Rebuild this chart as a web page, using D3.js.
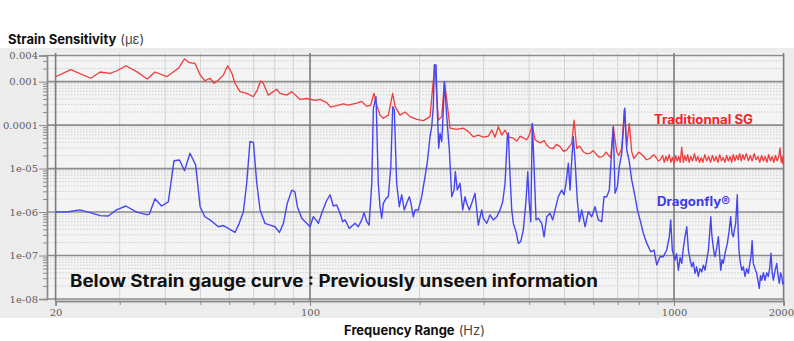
<!DOCTYPE html>
<html>
<head>
<meta charset="utf-8">
<script src="https://cdn.jsdelivr.net/npm/d3@7"></script>
<style>
  html, body { margin: 0; padding: 0; background: #ffffff; }
  svg { display: block; }
  .ticklabel { font-family: "DejaVu Serif", serif; font-size: 10px; fill: #5c5c5c; }
  .title { font-family: Inter, "Open Sans", sans-serif; }
</style>
</head>
<body>
<div id="chart"></div>
<script>
// Traditional strain gauge spectrum (Hz, strain)
const tradFreq = [20, 22, 25, 26.5, 28.2, 29.4, 31.2, 33.4, 35.7, 37.5, 40.4, 43.5, 45.2, 46.6, 48.3, 49.9, 51.4, 53.1, 54.5, 56,
  57.8, 59.4, 61, 62.2, 64.2, 67, 69.9, 71.6, 73.2, 74.4, 76.8, 81, 82.7, 86.3, 89.1, 93.9, 97.9, 103.2, 106.5, 111.1,
  114, 118.4, 123.5, 127.4, 134.4, 138.7, 143.2, 146.8, 149.9, 152.5, 155.7, 159, 164.1, 168.7, 171.2, 176.7, 182.4, 188.3, 196.4, 204.8,
  213.6, 217.3, 220.5, 222.9, 225.2, 230.1, 233.9, 237.5, 242.5, 252.9, 263.8, 272.3, 280.9, 290, 299.3, 309, 315.7, 322.3, 329.1, 336.3,
  343.4, 350.6, 361.9, 370, 377.5, 393.8, 400, 408, 415, 428.5, 440, 447, 455, 466.1, 475, 486.3, 497, 507.4, 523.6, 531.3,
  540.4, 550, 563.4, 575, 587.8, 600, 613.2, 625, 639.4, 650, 659.9, 670, 681.1, 696, 705, 718.3, 730.3, 741.3, 753.7, 765.2,
  775, 789.8, 800, 823.6, 840, 859.3, 880, 896.5, 905, 915.3];
const tradStrain = [1.3e-3, 1.9e-3, 1.2e-3, 1.67e-3, 1.56e-3, 1.76e-3, 2.33e-3, 1.7e-3, 1.15e-3, 1.67e-3, 1.3e-3, 2.03e-3, 3.33e-3, 2.74e-3, 2.65e-3, 1.43e-3, 1.05e-3, 1.2e-3, 9.2e-4, 1.09e-3,
  1.43e-3, 2.33e-3, 1.56e-3, 9.2e-4, 5.9e-4, 5.4e-4, 4.5e-4, 6.4e-4, 1.04e-3, 9.2e-4, 4.9e-4, 6.7e-4, 5.4e-4, 4.9e-4, 5.9e-4, 3.9e-4, 4.1e-4, 3.7e-4, 3.9e-4, 3.3e-4,
  2.6e-4, 2.8e-4, 3.1e-4, 2.9e-4, 3.2e-4, 3.5e-4, 2.7e-4, 2.9e-4, 5.4e-4, 2.9e-4, 1.7e-4, 1.44e-4, 1.7e-4, 5.4e-4, 2.7e-4, 1.7e-4, 2.0e-4, 1.57e-4, 1.36e-4, 1.27e-4,
  1.57e-4, 7.7e-4, 2.42e-3, 4.5e-4, 1.31e-4, 1.57e-4, 1.0e-3, 3.8e-4, 8.5e-5, 8.0e-5, 8.5e-5, 7.1e-5, 5.4e-5, 5.9e-5, 5.3e-5, 5.6e-5, 7.7e-5, 5.3e-5, 9.2e-5, 5.9e-5,
  7.7e-5, 5.4e-5, 5.0e-5, 4.3e-5, 5.6e-5, 4.6e-5, 5.8e-5, 1.0e-4, 4.6e-5, 3.9e-5, 4.4e-5, 3.5e-5, 3.0e-5, 2.9e-5, 3.6e-5, 3.2e-5, 2.5e-5, 2.7e-5, 3.8e-5, 1.31e-4,
  2.9e-5, 3.3e-5, 2.45e-5, 2.2e-5, 2.25e-5, 2.6e-5, 2.06e-5, 1.8e-5, 1.95e-5, 2.4e-5, 2.06e-5, 1.8e-5, 8.9e-5, 2.45e-5, 2.0e-5, 2.9e-5, 2.3e-4, 3.2e-5, 1.1e-4, 2.45e-5,
  1.7e-5, 2.06e-5, 2.4e-5, 1.95e-5, 1.6e-5, 1.73e-5, 2.1e-5, 1.73e-5, 1.5e-5, 1.58e-5];
// noisy flat part above ~900 Hz
const tradHiFreq = [930, 940, 950, 960, 970, 980, 990, 1000, 1010, 1020,
  1030, 1040, 1050, 1060, 1070, 1080, 1090, 1100, 1112, 1125,
  1138, 1150, 1162, 1175, 1188, 1200, 1215, 1230, 1245, 1260,
  1275, 1290, 1305, 1320, 1335, 1350, 1365, 1380, 1395, 1410,
  1425, 1440, 1455, 1470, 1485, 1500, 1515, 1530, 1545, 1560,
  1580, 1600, 1620, 1640, 1660, 1680, 1700, 1720, 1740, 1760,
  1780, 1800, 1820, 1840, 1860, 1880, 1900, 1920, 1940, 1955,
  1970, 1980, 1990, 2000];
const tradHiStrain = [2.0e-5, 1.4e-5, 1.9e-5, 1.5e-5, 2.1e-5, 1.4e-5, 1.8e-5, 1.3e-5, 2.0e-5, 1.5e-5,
  1.9e-5, 1.4e-5, 3.1e-5, 1.4e-5, 2.0e-5, 1.5e-5, 2.1e-5, 1.4e-5, 1.9e-5, 1.5e-5,
  2.2e-5, 1.5e-5, 1.9e-5, 1.4e-5, 1.8e-5, 1.4e-5, 2.1e-5, 1.5e-5, 1.9e-5, 1.4e-5,
  2.0e-5, 1.5e-5, 1.9e-5, 1.4e-5, 2.1e-5, 1.5e-5, 1.8e-5, 1.4e-5, 2.0e-5, 1.5e-5,
  1.9e-5, 1.4e-5, 2.1e-5, 1.5e-5, 2.0e-5, 1.6e-5, 2.2e-5, 1.5e-5, 2.1e-5, 1.6e-5,
  2.2e-5, 1.5e-5, 2.0e-5, 1.5e-5, 2.2e-5, 1.6e-5, 1.9e-5, 1.4e-5, 2.0e-5, 1.5e-5,
  1.9e-5, 1.4e-5, 2.1e-5, 1.5e-5, 1.9e-5, 1.4e-5, 2.0e-5, 1.5e-5, 1.9e-5, 3.0e-5,
  1.4e-5, 1.9e-5, 1.3e-5, 1.8e-5];

// Dragonfly sensor spectrum (Hz, strain)
const dragonFreq = [20, 21.7, 23.3, 24.9, 26.5, 27.9, 29.4, 31.2, 33.4, 35.6, 36.2, 37.5, 39.1, 40.8, 42.3, 43.8, 45.2, 46.8, 48.5, 49.9,
  51.4, 53.1, 56, 57.8, 59.6, 62.2, 63.9, 65.6, 67, 68.4, 69.9, 71.4, 72.9, 75.2, 77.7, 80.1, 82.4, 84.5, 86.6, 89.1,
  90.9, 92.3, 94.9, 97.9, 100, 102.1, 103.9, 105.4, 107.7, 110.7, 113.5, 115.9, 118.4, 120.9, 123, 124.8, 128.2, 132.9, 135.7, 138.7,
  140.7, 143.2, 145.3, 147.8, 149.3, 151.8, 154, 155.7, 157.4, 159, 161.8, 164.1, 166.7, 168.7, 170.4, 173, 175.9, 178.6, 181.5, 184.3,
  187.4, 189.4, 192.2, 194.3, 198.4, 202.7, 207, 210.1, 213.6, 215.9, 218.1, 219.5, 221.9, 223.7, 225.7, 227.6, 230.1, 232.4, 233.9, 237.5,
  241.4, 245.1, 248.7, 250.7, 253.9, 258.2, 262.7, 266.6, 269.4, 273.9, 278.1, 283.9, 287.1, 290, 296.3, 299.3, 305.8, 312.2, 318.8, 325.8,
  332.7, 338.4, 343.4, 348.3, 350.6, 352.8, 358.2, 361.9, 368.1, 373.5, 379.2, 385.5, 392.2, 396.4, 399.7, 404, 408, 412.6, 417.8, 424,
  433.1, 439.5, 447, 456.3, 464.3, 471.1, 481, 491.5, 498.7, 505, 512.4, 517.9, 523.6, 528.9, 534.6, 542.4, 549.3, 557.7, 569.5, 581.5,
  594.2, 606.7, 619.4, 632.9, 642.2, 653.2, 664.1, 674.3, 681.1, 688.5, 698.6, 707.5, 718.3, 725.6, 732.1, 741.3, 752.3, 765.2, 781.6, 793.1,
  806.7, 823.6, 842.1, 863, 881.4, 896.5, 915.3, 934.6, 954.8, 970.6, 979.2, 989.2];
const dragonStrain = [1.0e-6, 1.02e-6, 1.12e-6, 9.7e-7, 8.3e-7, 8.1e-7, 1.12e-6, 1.38e-6, 1.0e-6, 8.7e-7, 9.0e-7, 2.03e-6, 1.38e-6, 1.71e-6, 1.52e-5, 1.58e-5, 8.95e-6, 2.25e-5, 1.21e-5, 1.33e-6,
  7.8e-7, 6.6e-7, 4.6e-7, 4.9e-7, 4.2e-7, 3.4e-7, 5.5e-7, 1.02e-6, 4.6e-6, 4.2e-5, 4.0e-5, 4.6e-6, 1.12e-6, 5.5e-7, 5.0e-7, 4.6e-7, 3.4e-7, 5.5e-7, 1.59e-6, 3.2e-6,
  2.9e-6, 1.33e-6, 7.2e-7, 5.5e-7, 4.6e-7, 7.8e-7, 6.6e-7, 5.5e-7, 9.4e-7, 1.73e-6, 2.5e-6, 1.38e-6, 1.46e-6, 9.4e-7, 6.0e-7, 6.6e-7, 4.2e-7, 5.5e-7, 4.6e-7, 6.6e-7,
  9.7e-7, 6.0e-7, 5.0e-7, 4.6e-6, 2.44e-4, 4.5e-4, 4.6e-6, 1.33e-6, 7.2e-7, 1.59e-6, 2.07e-6, 2.26e-6, 1.11e-5, 2.66e-4, 2.23e-4, 4.6e-6, 1.33e-6, 2.5e-6, 1.12e-6, 1.59e-6,
  2.26e-6, 1.59e-6, 7.8e-7, 1.12e-6, 1.12e-6, 2.26e-6, 6.5e-6, 1.44e-5, 5.4e-5, 9.2e-5, 2.66e-4, 2.42e-3, 2.42e-3, 2.23e-4, 2.94e-5, 6.5e-5, 4.2e-5, 2.23e-4, 1.0e-3, 1.57e-4,
  2.68e-5, 2.26e-6, 3.2e-6, 8.5e-6, 3.2e-6, 4.6e-6, 1.12e-6, 2.26e-6, 1.59e-6, 1.12e-6, 1.59e-6, 2.7e-6, 1.12e-6, 5.0e-7, 1.12e-6, 7.2e-7, 5.5e-7, 8.6e-7, 6.6e-7, 7.8e-7,
  1.12e-6, 1.73e-6, 4.6e-6, 5.4e-5, 6.6e-5, 1.58e-5, 1.12e-6, 5.5e-7, 3.5e-7, 1.9e-7, 2.1e-7, 3.9e-7, 1.9e-6, 8.5e-6, 1.9e-6, 6.0e-7, 1.1e-4, 1.11e-5, 6.6e-7, 7.2e-7,
  5.5e-7, 2.7e-7, 7.8e-7, 9.4e-7, 6.6e-7, 1.12e-6, 2.26e-6, 3.2e-6, 2.5e-6, 4.6e-6, 1.33e-5, 3.2e-6, 1.58e-5, 5.4e-5, 1.58e-5, 1.9e-6, 6.0e-7, 1.12e-6, 4.6e-7, 1.02e-6,
  7.8e-7, 1.33e-6, 6.6e-7, 6.0e-7, 2.26e-6, 2.26e-6, 3.2e-6, 2.68e-5, 9.2e-5, 2.7e-6, 3.8e-6, 1.11e-5, 2.25e-5, 7.7e-5, 2.44e-4, 2.68e-5, 1.58e-5, 5.5e-6, 2.26e-6, 1.12e-6,
  6.6e-7, 3.25e-7, 1.9e-7, 1.22e-7, 1.34e-7, 6.1e-8, 9.4e-8, 9.4e-8, 1.34e-7, 2.7e-7, 6.6e-7, 1.34e-7];
// noisy tail above 1 kHz
const dragonHiFreq = [1006, 1016, 1028, 1039, 1050, 1061, 1072, 1084, 1095, 1107,
  1119, 1130, 1142, 1154, 1166, 1179, 1192, 1204, 1217, 1230,
  1243, 1252, 1262, 1270, 1278, 1287, 1296, 1310, 1324, 1334,
  1344, 1355, 1366, 1383, 1401, 1416, 1431, 1443, 1455, 1466,
  1477, 1485, 1492, 1500, 1508, 1521, 1535, 1551, 1567, 1583,
  1600, 1613, 1627, 1639, 1651, 1669, 1687, 1701, 1715, 1728,
  1741, 1760, 1778, 1797, 1816, 1831, 1847, 1861, 1875, 1895,
  1915, 1931, 1947, 1962, 1977, 1990, 2000];
const dragonHiStrain = [7.9e-8, 1.1e-7, 4.6e-8, 9e-8, 6.6e-8, 1.5e-7, 2.7e-7, 4.6e-7, 1.34e-7, 8e-8,
  5.5e-8, 7e-8, 3.9e-8, 5.5e-8, 3.3e-8, 5e-8, 4.2e-8, 6e-8, 4.6e-8, 8e-8,
  1.34e-7, 3e-7, 7.8e-7, 3e-7, 1.9e-7, 1.2e-7, 9.4e-8, 1.5e-7, 2.7e-7, 1.1e-7,
  4.6e-8, 8e-8, 6.6e-8, 1.2e-7, 1.9e-7, 3.5e-7, 7.8e-7, 3.2e-7, 2.7e-7, 4e-7,
  5.5e-7, 1.2e-6, 2.5e-6, 4e-7, 1.34e-7, 7e-8, 4.6e-8, 5.5e-8, 3.3e-8, 5e-8,
  3.9e-8, 6e-8, 9.4e-8, 2.2e-7, 6.6e-8, 5e-8, 3.9e-8, 2.6e-8, 1.76e-8, 3.5e-8,
  2.7e-8, 4e-8, 2.7e-8, 4e-8, 3.3e-8, 5e-8, 1.13e-7, 4e-8, 2.7e-8, 4.5e-8,
  6.6e-8, 3.5e-8, 2.3e-8, 4e-8, 3.3e-8, 2.2e-8, 2.5e-8];

// axis ticks
const yMajorTicks = [0.004, 0.001, 1e-4, 1e-5, 1e-6, 1e-7, 1e-8];
const yTickLabels = ["0.004", "0.001", "0.0001", "1e-05", "1e-06", "1e-07", "1e-08"];
const xMajorTicks = [20, 100, 1000, 2000];
const xTickLabels = ["20", "100", "1000", "2000"];

const width = 794, height = 341;
const plot = { left: 47, right: 784, top: 53, bottom: 301 };

const x = d3.scaleLog().domain([20, 2000]).range([55.6, 783.6]);
const y = d3.scaleLog().domain([1e-8, 0.004]).range([299, 55.5]);

// minor tick values: 2..9 times each decade
const decades = [1e-8, 1e-7, 1e-6, 1e-5, 1e-4, 1e-3];
const yMinorTicks = [];
decades.forEach(d => d3.range(2, 10).forEach(k => { if (k * d < 0.004) yMinorTicks.push(k * d); }));
const xMinorTicks = [];
[10, 100, 1000].forEach(d => d3.range(2, 10).forEach(k => { const v = k * d; if (v > 20 && v < 2000 && v !== 100 && v !== 1000) xMinorTicks.push(v); }));

const svg = d3.select('#chart').append('svg')
  .attr('width', width)
  .attr('height', height);

// grey panel behind the plot
svg.append('rect')
  .attr('x', 0).attr('y', 48)
  .attr('width', width).attr('height', 270)
  .attr('fill', '#ececec');

svg.append('rect')
  .attr('x', plot.left).attr('y', plot.top)
  .attr('width', plot.right - plot.left).attr('height', plot.bottom - plot.top)
  .attr('fill', '#f4f4f4');

const grid = svg.append('g').attr('class', 'grid');

// horizontal minor grid (dotted)
grid.selectAll('.hminor')
  .data(yMinorTicks)
  .enter().append('line')
  .attr('x1', plot.left).attr('x2', plot.right)
  .attr('y1', d => y(d)).attr('y2', d => y(d))
  .attr('stroke', '#c4c4c4')
  .attr('stroke-width', 0.8)
  .attr('stroke-dasharray', '1.5,1.5');

// vertical minor grid
grid.selectAll('.vminor')
  .data(xMinorTicks)
  .enter().append('line')
  .attr('x1', d => x(d)).attr('x2', d => x(d))
  .attr('y1', plot.top).attr('y2', plot.bottom)
  .attr('stroke', '#d2d2d2')
  .attr('stroke-width', 1);

// major grid
grid.selectAll('.hmajor')
  .data(yMajorTicks)
  .enter().append('line')
  .attr('x1', plot.left).attr('x2', plot.right)
  .attr('y1', d => y(d)).attr('y2', d => y(d))
  .attr('stroke', '#8c8c8c')
  .attr('stroke-width', 1.6);

grid.selectAll('.vmajor')
  .data(xMajorTicks)
  .enter().append('line')
  .attr('x1', d => x(d)).attr('x2', d => x(d))
  .attr('y1', plot.top).attr('y2', plot.bottom)
  .attr('stroke', '#7c7c7c')
  .attr('stroke-width', 1.6);

// axes
const yAxis = svg.append('g')
  .attr('transform', `translate(${plot.left},0)`)
  .call(d3.axisLeft(y).tickValues(yMajorTicks).tickSize(8).tickPadding(2)
    .tickFormat((d, i) => yTickLabels[i]));
svg.append('g')
  .attr('transform', `translate(${plot.left},0)`)
  .call(d3.axisLeft(y).tickValues(yMinorTicks).tickSize(4).tickFormat(''));

const xAxis = svg.append('g')
  .attr('transform', `translate(0,${plot.bottom})`)
  .call(d3.axisBottom(x).tickValues(xMajorTicks).tickSize(5).tickPadding(3)
    .tickFormat((d, i) => xTickLabels[i]));
svg.append('g')
  .attr('transform', `translate(0,${plot.bottom})`)
  .call(d3.axisBottom(x).tickValues(xMinorTicks).tickSize(4).tickFormat(''));

svg.selectAll('.domain').attr('stroke', '#8a8a8a').attr('stroke-width', 1.4);
svg.selectAll('.tick line').attr('stroke', '#8a8a8a');
svg.selectAll('.tick text').attr('class', 'ticklabel');
yAxis.selectAll('.tick text').attr('x', -9);
// last x label sits against the right edge
xAxis.selectAll('.tick text').filter(d => d === 2000)
  .attr('text-anchor', 'end')
  .attr('x', 10);

// series
svg.append('clipPath').attr('id', 'plotclip')
  .append('rect')
  .attr('x', plot.left).attr('y', plot.top)
  .attr('width', plot.right - plot.left).attr('height', plot.bottom - plot.top);

const line = d3.line()
  .x(d => x(d[0]))
  .y(d => y(d[1]));

const tradData = tradFreq.concat(tradHiFreq)
  .map((f, i) => [f, tradStrain.concat(tradHiStrain)[i]]);
const dragonData = dragonFreq.concat(dragonHiFreq)
  .map((f, i) => [f, dragonStrain.concat(dragonHiStrain)[i]]);

svg.append('path')
  .datum(tradData)
  .attr('clip-path', 'url(#plotclip)')
  .attr('fill', 'none')
  .attr('stroke', '#f03c3c')
  .attr('stroke-width', 1.3)
  .attr('stroke-linejoin', 'round')
  .attr('d', line);

svg.append('path')
  .datum(dragonData)
  .attr('clip-path', 'url(#plotclip)')
  .attr('fill', 'none')
  .attr('stroke', '#4646ee')
  .attr('stroke-width', 1.4)
  .attr('stroke-linejoin', 'round')
  .attr('d', line);

// texts
const yTitle = svg.append('text')
  .attr('class', 'title')
  .attr('x', 8).attr('y', 44)
  .style('font-size', '13px')
  .style('fill', '#111');
yTitle.append('tspan').attr('font-weight', 700).text('Strain Sensitivity');
yTitle.append('tspan').attr('font-weight', 400).style('fill', '#444').attr('dx', 4).text('(µε)');

const xTitle = svg.append('text')
  .attr('class', 'title')
  .attr('x', 344).attr('y', 335)
  .style('font-size', '13px')
  .style('fill', '#111');
xTitle.append('tspan').attr('font-weight', 700).text('Frequency Range');
xTitle.append('tspan').attr('font-weight', 400).style('fill', '#444').attr('dx', 4).text('(Hz)');

svg.append('text')
  .attr('class', 'title')
  .attr('x', 70).attr('y', 287)
  .attr('font-weight', 700)
  .attr('textLength', 528)
  .attr('lengthAdjust', 'spacingAndGlyphs')
  .style('font-size', '17px')
  .style('fill', '#111')
  .text('Below Strain gauge curve : Previously unseen information');

svg.append('text')
  .attr('class', 'title')
  .attr('x', 654).attr('y', 124)
  .attr('font-weight', 700)
  .attr('textLength', 99)
  .attr('lengthAdjust', 'spacingAndGlyphs')
  .style('font-size', '12.5px')
  .style('fill', '#f02424')
  .text('Traditionnal SG');

svg.append('text')
  .attr('class', 'title')
  .attr('x', 657).attr('y', 206)
  .attr('font-weight', 700)
  .attr('textLength', 73)
  .attr('lengthAdjust', 'spacingAndGlyphs')
  .style('font-size', '12.5px')
  .style('fill', '#3c3ce6')
  .text('Dragonfly®');
</script>
</body>
</html>
